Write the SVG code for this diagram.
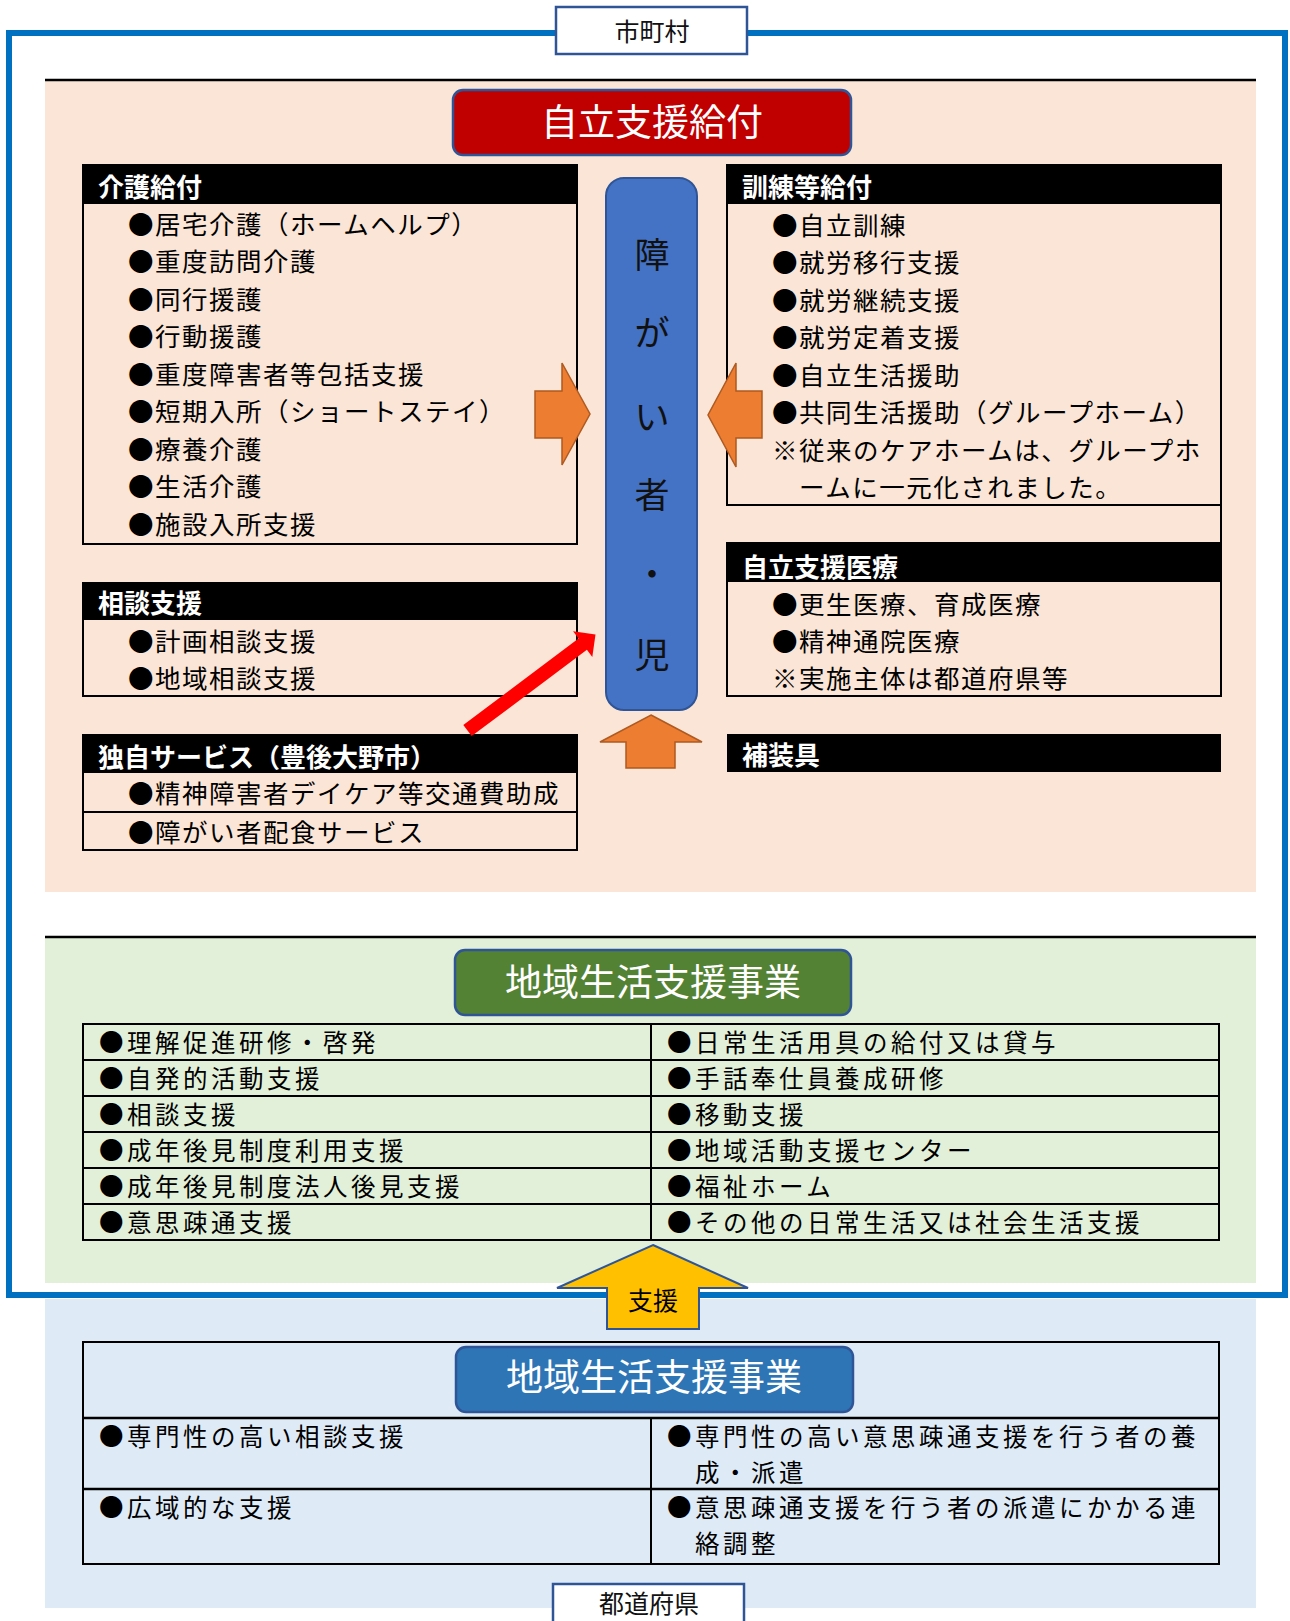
<svg xmlns="http://www.w3.org/2000/svg" width="1290" height="1621" viewBox="0 0 1290 1621">
<style>
text{font-family:"Noto Sans CJK JP","Noto Sans",sans-serif;}
.t{font-size:25.5px;letter-spacing:1.5px;fill:#000;}
.tt{font-size:24.5px;letter-spacing:3.5px;fill:#000;}
.h{font-size:26px;font-weight:bold;fill:#fff;}
.title{font-size:37px;fill:#fff;text-anchor:middle;}
.box{fill:none;stroke:#000;stroke-width:2;}
.hdr{fill:#000;}
.lbl{fill:#fff;stroke:#2F5597;stroke-width:2.5;}
.ln{stroke:#000;stroke-width:2;}
.orange{fill:#ED7D31;stroke:#AE5A21;stroke-width:1.5;}
.vt{font-size:35px;fill:#111;text-anchor:middle;}
</style>
<rect width="1290" height="1621" fill="#fff"/>
<!-- regions -->
<rect x="45" y="81" width="1211" height="811" fill="#FBE5D6"/>
<line x1="45" y1="80" x2="1256" y2="80" stroke="#000" stroke-width="2.5"/>
<rect x="45" y="938" width="1211" height="345" fill="#E2F0D9"/>
<line x1="45" y1="937" x2="1256" y2="937" stroke="#000" stroke-width="2.5"/>
<rect x="45" y="1299" width="1211" height="309" fill="#DEEBF7"/>
<rect x="9" y="33" width="1276" height="1262" fill="none" stroke="#0070C0" stroke-width="6"/>

<g id="shichoson">
<rect x="556" y="7" width="191" height="47" class="lbl"/>
<text x="652" y="41" font-size="25" text-anchor="middle" fill="#111">市町村</text>
</g>

<g id="jiritsu-title">
<rect x="453" y="90" width="398" height="65" rx="10" fill="#C00000" stroke="#2F5597" stroke-width="2.5"/>
<text x="652" y="136" class="title">自立支援給付</text>
</g>

<g id="kaigo">
<rect x="83" y="165" width="494" height="39" class="hdr"/>
<rect x="83" y="165" width="494" height="379" class="box"/>
<text x="98" y="197" class="h">介護給付</text>
<text x="128" y="233.7" class="t">●居宅介護（ホームヘルプ）</text>
<text x="128" y="271.2" class="t">●重度訪問介護</text>
<text x="128" y="308.7" class="t">●同行援護</text>
<text x="128" y="346.2" class="t">●行動援護</text>
<text x="128" y="383.7" class="t">●重度障害者等包括支援</text>
<text x="128" y="421.2" class="t">●短期入所（ショートステイ）</text>
<text x="128" y="458.7" class="t">●療養介護</text>
<text x="128" y="496.2" class="t">●生活介護</text>
<text x="128" y="533.7" class="t">●施設入所支援</text>
</g>

<g id="kunren">
<rect x="727" y="165" width="494" height="39" class="hdr"/>
<rect x="727" y="165" width="494" height="340" class="box"/>
<line x1="1221" y1="505" x2="1221" y2="544" class="ln"/>
<text x="742" y="197" class="h">訓練等給付</text>
<text x="772" y="234.7" class="t">●自立訓練</text>
<text x="772" y="272.2" class="t">●就労移行支援</text>
<text x="772" y="309.7" class="t">●就労継続支援</text>
<text x="772" y="347.2" class="t">●就労定着支援</text>
<text x="772" y="384.7" class="t">●自立生活援助</text>
<text x="772" y="422.2" class="t">●共同生活援助（グループホーム）</text>
<text x="772" y="459.7" class="t">※従来のケアホームは、グループホ</text>
<text x="799" y="497.2" class="t">ームに一元化されました。</text>
</g>

<g id="shogaisha">
<rect x="606" y="178" width="91" height="532" rx="18" fill="#4472C4" stroke="#2F5597" stroke-width="2"/>
<text x="652" y="268" class="vt">障</text>
<text x="652" y="346" class="vt">が</text>
<text x="652" y="430" class="vt">い</text>
<text x="652" y="508" class="vt">者</text>
<text x="652" y="587" class="vt">・</text>
<text x="652" y="668" class="vt">児</text>
</g>

<g id="soudan">
<rect x="83" y="583" width="494" height="37" class="hdr"/>
<rect x="83" y="583" width="494" height="113" class="box"/>
<text x="98" y="613" class="h">相談支援</text>
<text x="128" y="650.7" class="t">●計画相談支援</text>
<text x="128" y="687.7" class="t">●地域相談支援</text>
</g>

<g id="iryo">
<rect x="727" y="543" width="494" height="39" class="hdr"/>
<rect x="727" y="543" width="494" height="153" class="box"/>
<text x="742" y="577" class="h">自立支援医療</text>
<text x="772" y="613.7" class="t">●更生医療、育成医療</text>
<text x="772" y="650.7" class="t">●精神通院医療</text>
<text x="772" y="687.7" class="t">※実施主体は都道府県等</text>
</g>

<g id="dokuji">
<rect x="83" y="735" width="494" height="38" class="hdr"/>
<rect x="83" y="735" width="494" height="115" class="box"/>
<line x1="83" y1="812" x2="577" y2="812" class="ln"/>
<text x="98" y="767" class="h">独自サービス（豊後大野市）</text>
<text x="128" y="802.7" class="t">●精神障害者デイケア等交通費助成</text>
<text x="128" y="841.7" class="t">●障がい者配食サービス</text>
</g>

<g id="hosougu">
<rect x="727" y="734" width="494" height="38" class="hdr"/>
<text x="742" y="765" class="h">補装具</text>
</g>

<g id="chiiki-city-title">
<rect x="455" y="950" width="396" height="65" rx="10" fill="#548235" stroke="#2F5597" stroke-width="2.5"/>
<text x="653" y="996" class="title">地域生活支援事業</text>
</g>

<g id="chiiki-city-table">
<rect x="83" y="1024" width="1136" height="216" class="box"/>
<line x1="651" y1="1024" x2="651" y2="1240" class="ln"/>
<line x1="83" y1="1060" x2="1219" y2="1060" class="ln"/>
<line x1="83" y1="1096" x2="1219" y2="1096" class="ln"/>
<line x1="83" y1="1132" x2="1219" y2="1132" class="ln"/>
<line x1="83" y1="1168" x2="1219" y2="1168" class="ln"/>
<line x1="83" y1="1204" x2="1219" y2="1204" class="ln"/>
<text x="99" y="1051.5" class="tt">●理解促進研修・啓発</text>
<text x="99" y="1087.5" class="tt">●自発的活動支援</text>
<text x="99" y="1123.5" class="tt">●相談支援</text>
<text x="99" y="1159.5" class="tt">●成年後見制度利用支援</text>
<text x="99" y="1195.5" class="tt">●成年後見制度法人後見支援</text>
<text x="99" y="1231.5" class="tt">●意思疎通支援</text>
<text x="667" y="1051.5" class="tt">●日常生活用具の給付又は貸与</text>
<text x="667" y="1087.5" class="tt">●手話奉仕員養成研修</text>
<text x="667" y="1123.5" class="tt">●移動支援</text>
<text x="667" y="1159.5" class="tt">●地域活動支援センター</text>
<text x="667" y="1195.5" class="tt">●福祉ホーム</text>
<text x="667" y="1231.5" class="tt">●その他の日常生活又は社会生活支援</text>
</g>

<g id="pref-table">
<rect x="83" y="1342" width="1136" height="222" class="box"/>
<line x1="83" y1="1418" x2="1219" y2="1418" stroke="#000" stroke-width="2.5"/>
<line x1="83" y1="1489" x2="1219" y2="1489" stroke="#000" stroke-width="2.5"/>
<line x1="651" y1="1418" x2="651" y2="1564" class="ln"/>
<text x="99" y="1446.3" class="tt">●専門性の高い相談支援</text>
<text x="667" y="1446.3" class="tt">●専門性の高い意思疎通支援を行う者の養</text>
<text x="695" y="1482.3" class="tt">成・派遣</text>
<text x="99" y="1517.3" class="tt">●広域的な支援</text>
<text x="667" y="1517.3" class="tt">●意思疎通支援を行う者の派遣にかかる連</text>
<text x="695" y="1553.3" class="tt">絡調整</text>
</g>

<g id="pref-title">
<rect x="456" y="1347" width="397" height="65" rx="10" fill="#2E75B6" stroke="#2F5597" stroke-width="2.5"/>
<text x="654" y="1391" class="title">地域生活支援事業</text>
</g>

<g id="todofuken">
<rect x="553" y="1584" width="191" height="60" class="lbl"/>
<text x="649" y="1613" font-size="25" text-anchor="middle" fill="#111">都道府県</text>
</g>

<g id="connectors">
<polygon class="orange" points="535,391 562,391 562,363 590,414 562,465 562,438 535,438"/>
<polygon class="orange" points="762,391 736,391 736,363 708,415 736,467 736,438 762,438"/>
<polygon class="orange" points="651,715 702,742 675,742 675,768 626,768 626,742 600,742"/>
<polygon fill="#FF0000" points="471.7,736.1 586.9,649.7 592.3,656.9 595.5,634.5 573.1,631.3 578.5,638.5 463.3,724.9"/>
<g id="shien-arrow">
<polygon fill="#FFC000" stroke="#2F5597" stroke-width="2" points="653,1245 748,1288 699,1288 699,1329 607,1329 607,1288 557,1288"/>
<text x="653" y="1310" font-size="25" text-anchor="middle" fill="#000">支援</text>
</g>
</g>
</svg>
